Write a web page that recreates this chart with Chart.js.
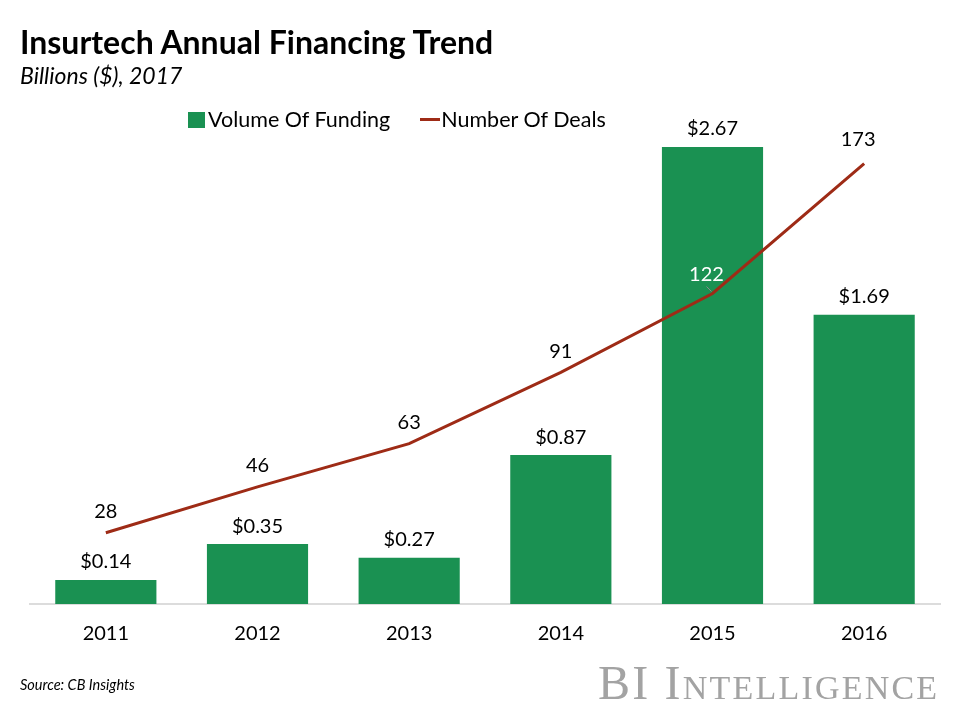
<!DOCTYPE html>
<html>
<head>
<meta charset="utf-8">
<script src="https://cdn.jsdelivr.net/npm/chart.js@4/dist/chart.umd.min.js"></script>
<style>
  body { margin: 0; background: #fff; font-family: Lato, "Open Sans", sans-serif; }
  #wrap { position: relative; width: 960px; height: 720px; }
  #myChart { position: absolute; left: 0; top: 0; }
  .txt { position: absolute; white-space: nowrap; color: #000; }
  #title { left: 20px; top: 22px; font-size: 32px; font-weight: bold; }
  #subtitle { left: 20px; top: 61px; font-size: 23px; font-style: italic; }
  #legend { left: 188px; top: 106px; font-size: 21.5px; }
  .swatch { display: inline-block; width: 17px; height: 16px; background: #1a9152; vertical-align: -1px; margin-right: 3px; }
  .lineKey { display: inline-block; width: 20px; height: 3px; background: #9e2b16; vertical-align: 6px; margin-left: 30px; margin-right: 1px; }
  #source { left: 20px; top: 676px; font-size: 14.5px; font-style: italic; }
  #logo { left: 598px; top: 655px; font-size: 48px; color: #a3a3a3; font-family: "Liberation Serif", "DejaVu Serif", serif; font-variant: small-caps; letter-spacing: 2.2px; }
</style>
</head>
<body>
<div id="wrap">
  <canvas id="myChart" width="960" height="720"></canvas>
  <div class="txt" id="title">Insurtech Annual Financing Trend</div>
  <div class="txt" id="subtitle">Billions ($), 2017</div>
  <div class="txt" id="legend"><span class="swatch"></span>Volume Of Funding<span class="lineKey"></span>Number Of Deals</div>
  <div class="txt" id="source">Source: CB Insights</div>
  <div class="txt" id="logo">BI Intelligence</div>
</div>
<script>
let years = ["2011", "2012", "2013", "2014", "2015", "2016"];
let funding = [0.14, 0.35, 0.27, 0.87, 2.67, 1.69];
let deals = [28, 46, 63, 91, 122, 173];

let barColor = "#1a9152";
let lineColor = "#9e2b16";

// labels above bars and points
let valueLabels = {
  id: "valueLabels",
  afterDatasetsDraw(chart) {
    let c = chart.ctx;
    c.save();
    c.font = "20px Lato, 'Open Sans', sans-serif";
    c.textAlign = "center";
    c.textBaseline = "middle";
    chart.getDatasetMeta(0).data.forEach((bar, i) => {
      c.fillStyle = "#000";
      c.fillText("$" + funding[i].toFixed(2), bar.x, bar.y - 18);
    });
    chart.getDatasetMeta(1).data.forEach((pt, i) => {
      let dx = 0, dy = -21;
      c.fillStyle = "#000";
      if (i == 4) {
        dx = -6; dy = -19;
        c.fillStyle = "#fff";
        // small leader line
        c.strokeStyle = "#8a8a8a";
        c.lineWidth = 1;
        c.beginPath();
        c.moveTo(pt.x - 6, pt.y - 7);
        c.lineTo(pt.x - 1, pt.y - 2);
        c.stroke();
      }
      if (i == 5) { dx = -6; dy = -24; }
      c.fillText(deals[i], pt.x + dx, pt.y + dy);
    });
    c.restore();
  },
};

var ctx = document.getElementById("myChart");
var myChart = new Chart(ctx, {
  data: {
    labels: years,
    datasets: [
      {
        type: "bar",
        label: "Volume Of Funding",
        data: funding,
        backgroundColor: barColor,
        yAxisID: "y",
        barPercentage: 0.667,
        categoryPercentage: 1,
        order: 2,
      },
      {
        type: "line",
        label: "Number Of Deals",
        data: deals,
        borderColor: lineColor,
        borderWidth: 3,
        pointRadius: 0,
        tension: 0,
        yAxisID: "y2",
        order: 1,
      },
    ],
  },
  options: {
    responsive: false,
    animation: false,
    layout: { padding: { left: 30, right: 20, top: 110, bottom: 56 } },
    plugins: {
      legend: { display: false },
      tooltip: { enabled: false },
    },
    scales: {
      x: {
        grid: { display: false, drawTicks: false },
        border: { display: true, color: "#dcdcdc", width: 2 },
        ticks: { color: "#000", padding: 18, font: { size: 20, family: "Lato, 'Open Sans', sans-serif" } },
      },
      y: { display: false, min: 0, max: 2.886 },
      y2: { display: false, min: 0, max: 194.1, position: "right" },
    },
  },
  plugins: [valueLabels],
});
</script>
</body>
</html>
